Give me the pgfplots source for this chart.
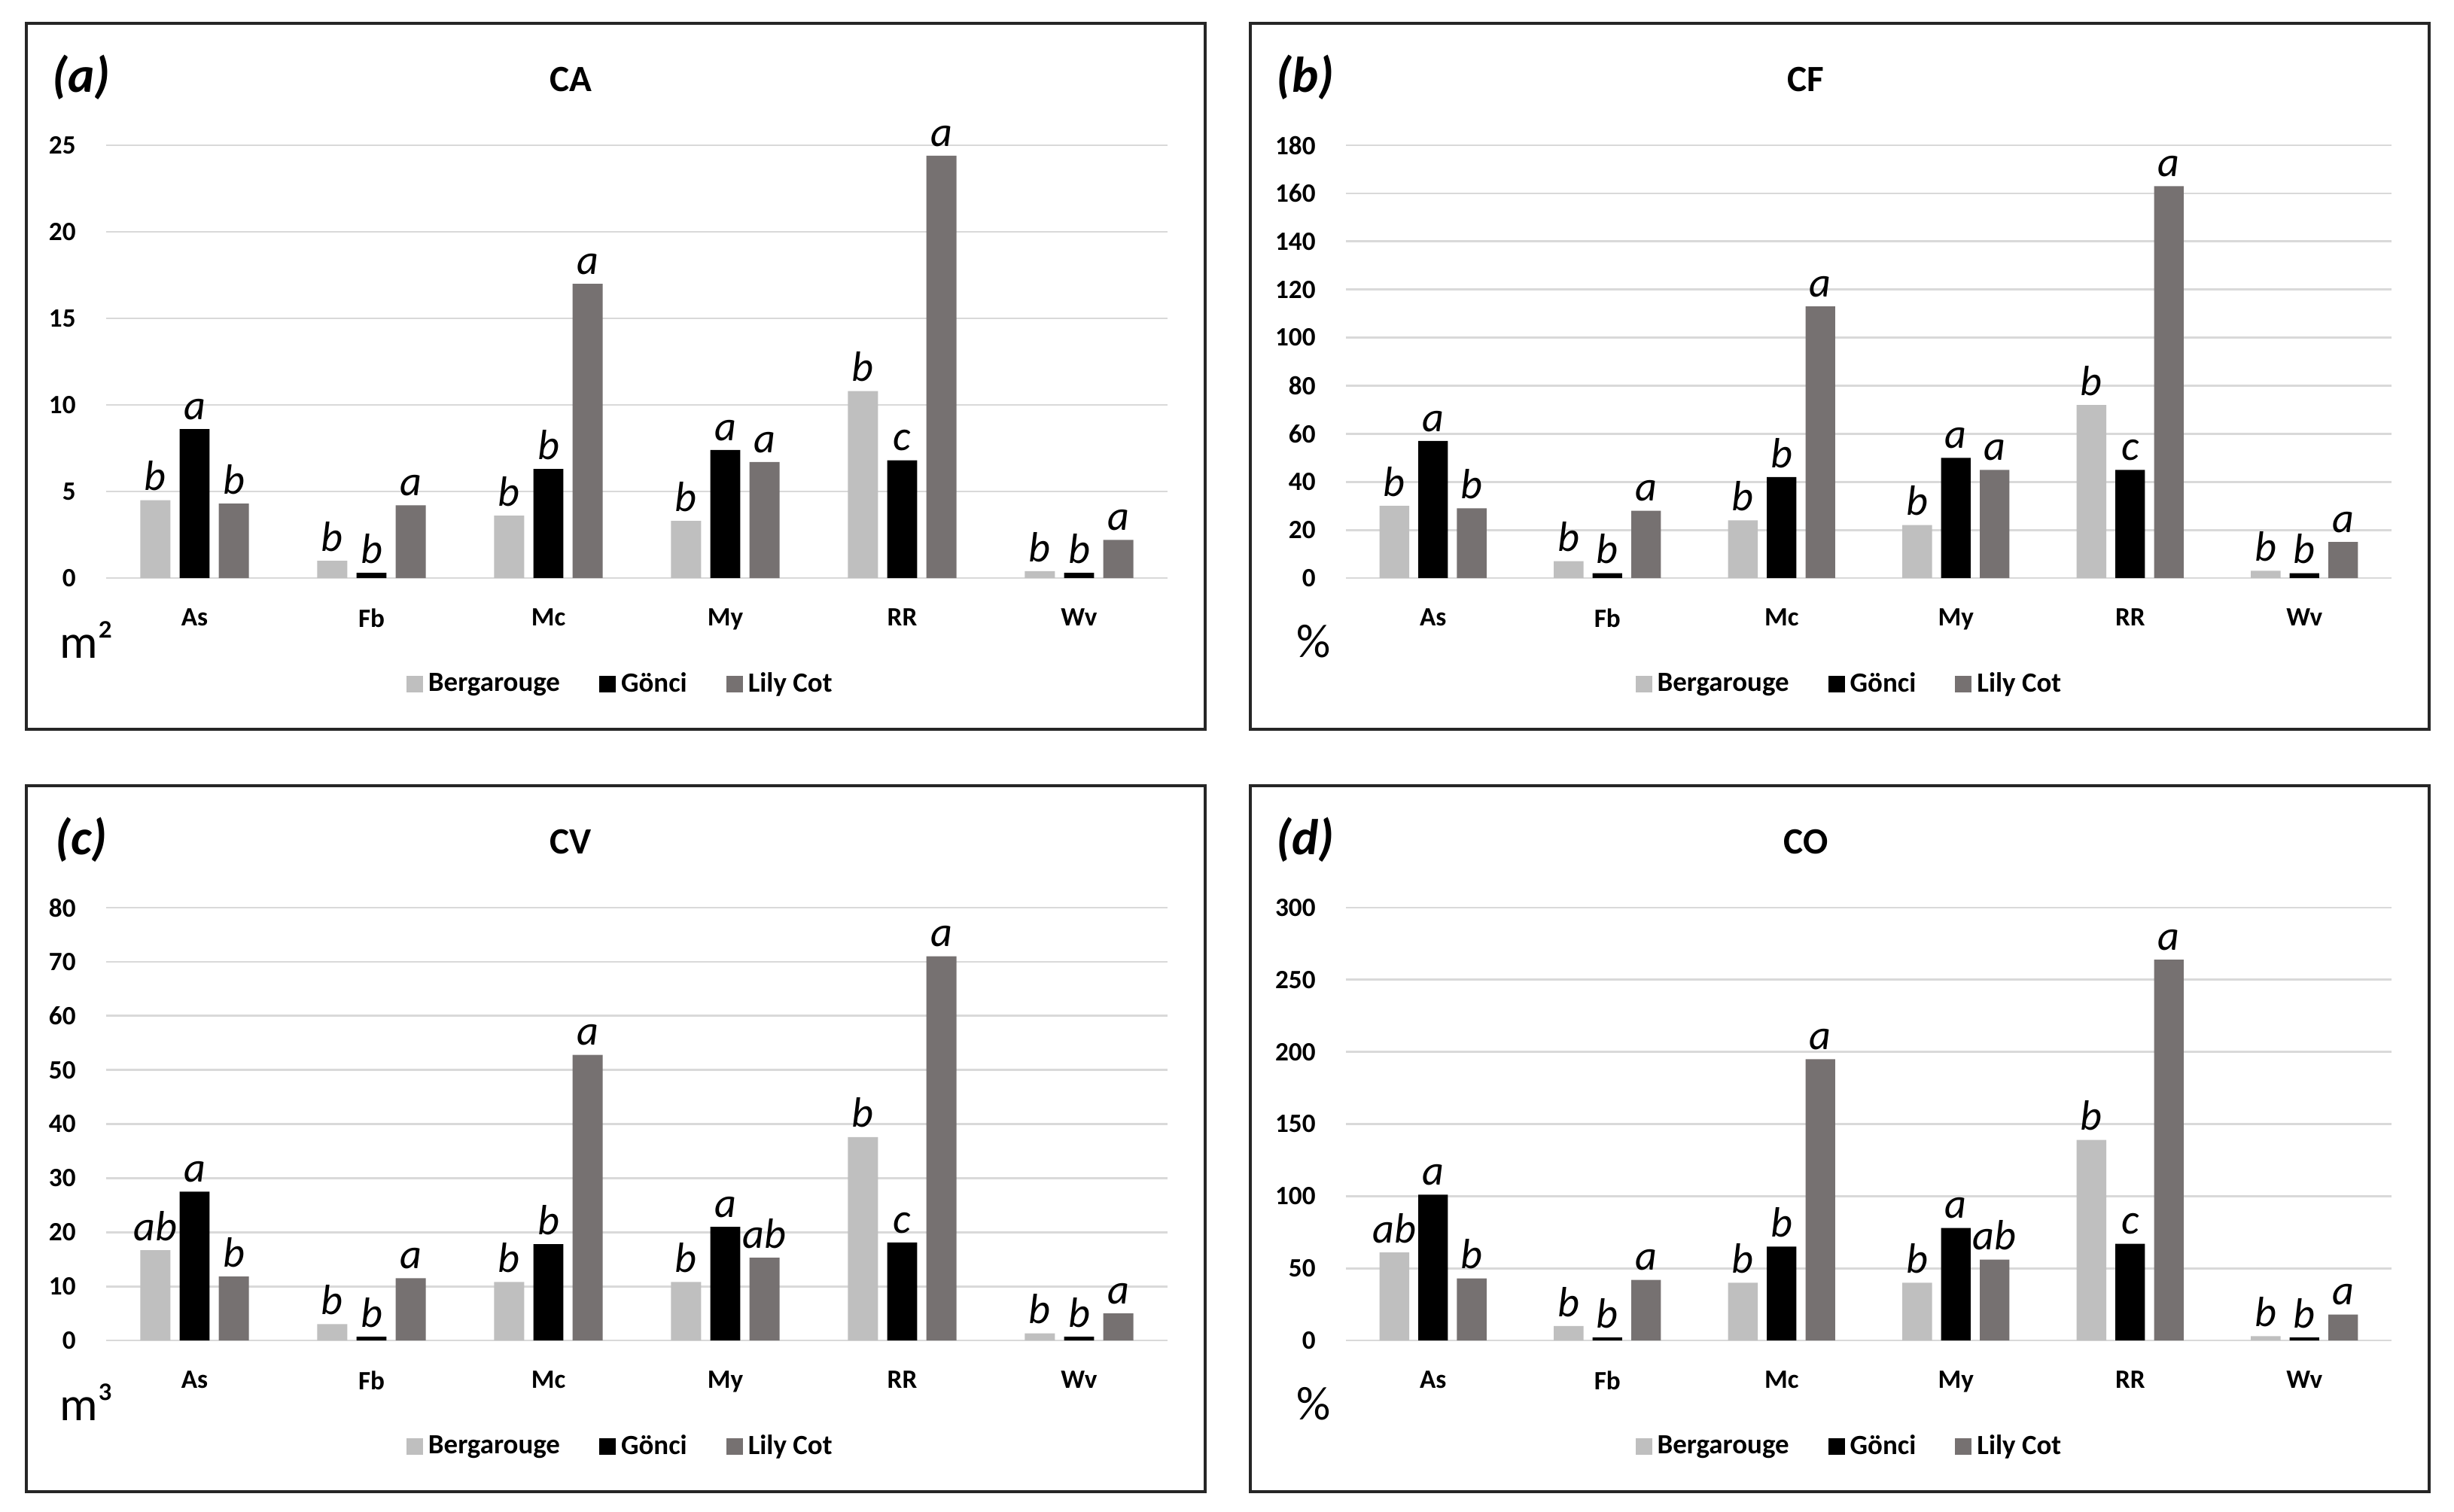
\documentclass[border=0pt]{standalone}
\usepackage{fontspec}
\setmainfont{Carlito}
\usepackage{pgfplots}
\usepackage{pgfplotstable}
\pgfplotsset{compat=1.18}

\definecolor{berg}{HTML}{BFBFBF}
\definecolor{lily}{HTML}{767171}
\definecolor{gridc}{HTML}{D9D9D9}

% x = category index, B/G/L = Bergarouge/Gonci/Lily Cot, lB/lG/lL = letters
\pgfplotstableread{
x B G L lB lG lL
0 4.5 8.6 4.3 b a b
1 1.0 0.3 4.2 b b a
2 3.6 6.3 17.0 b b a
3 3.3 7.4 6.7 b a a
4 10.8 6.8 24.4 b c a
5 0.4 0.3 2.2 b b a
}\tabCA
\pgfplotstableread{
x B G L lB lG lL
0 30 57 29 b a b
1 7 2 28 b b a
2 24 42 113 b b a
3 22 50 45 b a a
4 72 45 163 b c a
5 3 2 15 b b a
}\tabCF
\pgfplotstableread{
x B G L lB lG lL
0 16.7 27.5 11.8 ab a b
1 3.0 0.7 11.5 b b a
2 10.8 17.8 52.8 b b a
3 10.8 21.0 15.3 b a ab
4 37.6 18.1 71.0 b c a
5 1.3 0.7 5.0 b b a
}\tabCV
\pgfplotstableread{
x B G L lB lG lL
0 61 101 43 ab a b
1 10 2 42 b b a
2 40 65 195 b b a
3 40 78 56 b a ab
4 139 67 264 b c a
5 3 2 18 b b a
}\tabCO

\pgfplotsset{
  panel/.style={
    scale only axis, height=5.75cm,
    anchor=south west,
    xmin=-0.5, xmax=5.5, ymin=0,
    xtick={0,...,5}, xticklabels={As,Fb,Mc,My,RR,Wv},
    axis line style={draw=none},
    tick align=outside, major tick length=0.28cm,
    major tick style={draw=none},
    ymajorgrids, grid style={gridc, line width=0.8pt},
    tick label style={font=\fontsize{10}{12}\selectfont\bfseries},
    /pgf/number format/assume math mode=true,
    clip=false,
    legend columns=3,
    legend style={anchor=center, draw=none,
      font=\fontsize{10.5}{12}\selectfont\bfseries,
      /tikz/every even column/.append style={column sep=0.45cm}},
    legend image code/.code={\fill[##1] (0cm,-0.11cm) rectangle (0.22cm,0.11cm);},
    nodes near coords,
    point meta=explicit symbolic,
    every node near coord/.append style={font=\fontsize{16}{18}\selectfont\itshape, text=black, anchor=south},
  },
  left panel/.style={panel, width=14.10cm, legend style={at={(0.486,-0.245)}}},
  right panel/.style={panel, width=13.89cm, legend style={at={(0.483,-0.245)}}},
  barB/.style={ybar, bar width=0.17, bar shift=0, fill=berg, draw=none},
  barG/.style={ybar, bar width=0.17, bar shift=0, fill=black, draw=none},
  barL/.style={ybar, bar width=0.17, bar shift=0, fill=lily, draw=none},
}

\begin{document}
\begin{tikzpicture}
\path[use as bounding box] (0,0) rectangle (32.6,-20.08);

% (a) CA
\begin{axis}[left panel, at={(1.41cm,-7.68cm)}, ymax=25, ytick={0,5,...,25}]
  \addplot[barB] table[x expr=\thisrow{x}-0.222, y=B, meta=lB] {\tabCA};
  \addlegendentry{Bergarouge}
  \addplot[barG] table[x=x, y=G, meta=lG] {\tabCA};
  \addlegendentry{Gönci}
  \addplot[barL] table[x expr=\thisrow{x}+0.222, y=L, meta=lL] {\tabCA};
  \addlegendentry{Lily Cot}
\end{axis}

% (b) CF
\begin{axis}[right panel, at={(17.88cm,-7.68cm)}, ymax=180, ytick={0,20,...,180}]
  \addplot[barB] table[x expr=\thisrow{x}-0.222, y=B, meta=lB] {\tabCF};
  \addlegendentry{Bergarouge}
  \addplot[barG] table[x=x, y=G, meta=lG] {\tabCF};
  \addlegendentry{Gönci}
  \addplot[barL] table[x expr=\thisrow{x}+0.222, y=L, meta=lL] {\tabCF};
  \addlegendentry{Lily Cot}
\end{axis}

% (c) CV
\begin{axis}[left panel, at={(1.41cm,-17.81cm)}, ymax=80, ytick={0,10,...,80}]
  \addplot[barB] table[x expr=\thisrow{x}-0.222, y=B, meta=lB] {\tabCV};
  \addlegendentry{Bergarouge}
  \addplot[barG] table[x=x, y=G, meta=lG] {\tabCV};
  \addlegendentry{Gönci}
  \addplot[barL] table[x expr=\thisrow{x}+0.222, y=L, meta=lL] {\tabCV};
  \addlegendentry{Lily Cot}
\end{axis}

% (d) CO
\begin{axis}[right panel, at={(17.88cm,-17.81cm)}, ymax=300, ytick={0,50,...,300}]
  \addplot[barB] table[x expr=\thisrow{x}-0.222, y=B, meta=lB] {\tabCO};
  \addlegendentry{Bergarouge}
  \addplot[barG] table[x=x, y=G, meta=lG] {\tabCO};
  \addlegendentry{Gönci}
  \addplot[barL] table[x expr=\thisrow{x}+0.222, y=L, meta=lL] {\tabCO};
  \addlegendentry{Lily Cot}
\end{axis}

% frames
\draw[line width=1.2pt, black!85] (0.35,-0.31) rectangle (16.01,-9.69);
\draw[line width=1.2pt, black!85] (16.61,-0.31) rectangle (32.27,-9.69);
\draw[line width=1.2pt, black!85] (0.35,-10.44) rectangle (16.01,-19.82);
\draw[line width=1.2pt, black!85] (16.61,-10.44) rectangle (32.27,-19.82);

% panel letters, titles, units
\tikzset{plab/.style={font=\fontsize{19}{22}\selectfont\bfseries\itshape},
         ptit/.style={font=\fontsize{14}{17}\selectfont\bfseries},
         punit/.style={font=\fontsize{18}{21}\selectfont}}
\node[plab] at (1.08,-1.03) {(a)};
\node[ptit] at (7.58,-1.06) {CA};
\node[punit] at (1.15,-8.50) {m²};
\node[plab] at (17.34,-1.03) {(b)};
\node[ptit] at (23.99,-1.06) {CF};
\node[punit] at (17.45,-8.52) {\%};
\node[plab] at (1.08,-11.16) {(c)};
\node[ptit] at (7.58,-11.19) {CV};
\node[punit] at (1.15,-18.63) {m³};
\node[plab] at (17.34,-11.16) {(d)};
\node[ptit] at (23.99,-11.19) {CO};
\node[punit] at (17.45,-18.65) {\%};
\end{tikzpicture}
\end{document}
